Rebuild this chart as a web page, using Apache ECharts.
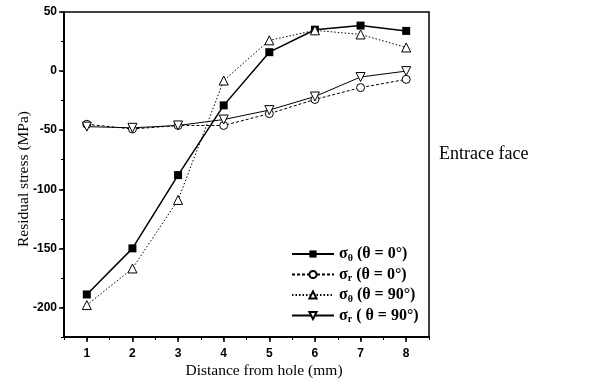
<!DOCTYPE html>
<html><head><meta charset="utf-8">
<script src="https://cdn.jsdelivr.net/npm/echarts@6/dist/echarts.min.js"></script>
<style>html,body{margin:0;padding:0;background:#fff}#c{width:589px;height:390px}</style>
</head><body><div id="c"></div>
<script>
var distances = [1, 2, 3, 4, 5, 6, 7, 8];
var sigmaTheta0 = [-189, -150, -88, -29, 16, 35, 38.5, 34];
var sigmaR0 = [-45, -49, -46, -46, -36, -24, -14, -7];
var sigmaTheta90 = [-198, -167, -109, -8, 26, 34.5, 31, 20];
var sigmaR90 = [-47, -48, -46, -41, -33, -21.5, -5, 0];
var yMajorTicks = [-200, -150, -100, -50, 0, 50];
var xMajorTicks = [1, 2, 3, 4, 5, 6, 7, 8];
var legendNames = ['a', 'b', 'c', 'd'];
var legendRich = {
  a: '{s|σ}{sub|θ}{t| (θ = 0°)}',
  b: '{s|σ}{sub|r}{t| (θ = 0°)}',
  c: '{s|σ}{sub|θ}{t| (θ = 90°)}',
  d: '{s|σ}{sub|r}{t| ( θ = 90°)}'
};
function pairs(arr) { return distances.map(function (d, i) { return [d, arr[i]]; }); }

var serif = 'Liberation Serif';
var sans = 'Liberation Sans';
var chart = echarts.init(document.getElementById('c'), null, {renderer: 'canvas'});
var openMarker = {color: '#fff', borderColor: '#000', borderWidth: 1};
chart.setOption({
  animation: false,
  backgroundColor: '#fff',
  grid: {left: 64, right: 160, top: 12, bottom: 53, show: true, borderColor: '#000', borderWidth: 1.5, backgroundColor: 'transparent'},
  xAxis: [{
    type: 'value', min: 0.5, max: 8.5,
    axisLine: {show: true, onZero: false, lineStyle: {color: '#000', width: 2}},
    axisTick: {show: true, length: 5, lineStyle: {color: '#000', width: 1.5}, customValues: xMajorTicks},
    axisLabel: {customValues: xMajorTicks, margin: 11, color: '#000', fontFamily: sans, fontWeight: 'bold', fontSize: 12},
    splitLine: {show: false}
  }, {
    type: 'value', min: 0.5, max: 8.5, interval: 0.5, position: 'bottom',
    axisLine: {show: false, onZero: false},
    axisTick: {show: true, length: 3, lineStyle: {color: '#000', width: 1}},
    axisLabel: {show: false}, splitLine: {show: false}
  }],
  yAxis: [{
    type: 'value', min: -225, max: 50,
    axisLine: {show: true, onZero: false, lineStyle: {color: '#000', width: 2}},
    axisTick: {show: true, length: 5, lineStyle: {color: '#000', width: 1.5}, customValues: yMajorTicks},
    axisLabel: {customValues: yMajorTicks, margin: 7, color: '#000', fontFamily: sans, fontWeight: 'bold', fontSize: 12},
    splitLine: {show: false}
  }, {
    type: 'value', min: -225, max: 50, interval: 25, position: 'left',
    axisLine: {show: false, onZero: false},
    axisTick: {show: true, length: 3, lineStyle: {color: '#000', width: 1}},
    axisLabel: {show: false}, splitLine: {show: false}
  }],
  legend: {
    orient: 'vertical', left: 286, top: 241, itemWidth: 42, itemHeight: 9, itemGap: 3.5,
    data: legendNames,
    formatter: function (n) { return legendRich[n]; },
    textStyle: {
      color: '#000', fontFamily: serif, fontSize: 16, fontWeight: 'bold',
      rich: {
        s: {fontFamily: serif, fontSize: 16, fontWeight: 'bold', color: '#000'},
        sub: {fontFamily: serif, fontSize: 10, fontWeight: 'bold', color: '#000', padding: [8, 0, 0, 0]},
        t: {fontFamily: serif, fontSize: 16, fontWeight: 'bold', color: '#000'}
      }
    }
  },
  graphic: [
    {type: 'text', left: 439, top: 145, style: {text: 'Entrace face', fontFamily: serif, fontSize: 18, fill: '#000'}},
    {type: 'text', x: 264, y: 371, style: {text: 'Distance from hole (mm)', fontFamily: serif, fontSize: 15.5, fill: '#000', align: 'center', verticalAlign: 'middle'}},
    {type: 'text', x: 24, y: 179, rotation: Math.PI / 2, style: {text: 'Residual stress (MPa)', fontFamily: serif, fontSize: 15.5, fill: '#000', align: 'center', verticalAlign: 'middle'}}
  ],
  series: [
    {name: 'a', type: 'line', data: pairs(sigmaTheta0), symbol: 'rect', symbolSize: 8,
     itemStyle: {color: '#000'}, lineStyle: {color: '#000', width: 1.5, type: 'solid'}},
    {name: 'b', type: 'line', data: pairs(sigmaR0), symbol: 'circle', symbolSize: 8,
     itemStyle: openMarker, lineStyle: {color: '#000', width: 1, type: [3, 2]}},
    {name: 'c', type: 'line', data: pairs(sigmaTheta90), symbol: 'triangle', symbolSize: 9,
     itemStyle: openMarker, lineStyle: {color: '#000', width: 1, type: [1.5, 2]}},
    {name: 'd', type: 'line', data: pairs(sigmaR90), symbol: 'triangle', symbolRotate: 180, symbolSize: 9,
     itemStyle: openMarker, lineStyle: {color: '#000', width: 1, type: 'solid'}}
  ]
});
</script></body></html>
